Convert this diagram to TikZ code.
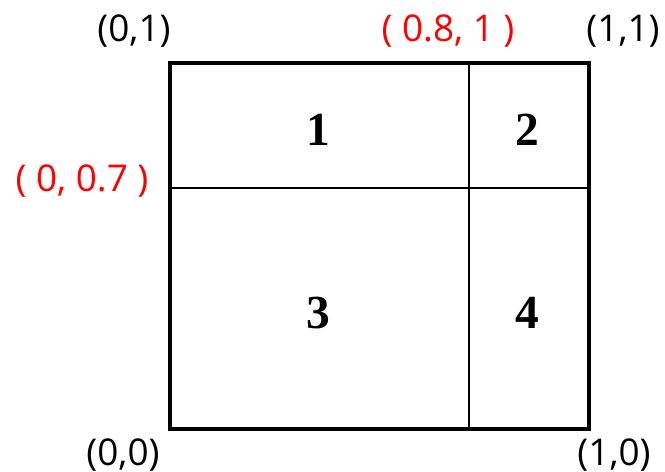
\documentclass[tikz,border=0pt]{standalone}
\usepackage{fontspec}
\setmainfont{Liberation Serif}
\newfontfamily\labelfont{Open Sans}

\begin{document}
\begin{tikzpicture}[x=0.02cm, y=-0.02cm,
    corner/.style={font=\labelfont\fontsize{21}{25}\selectfont},
    cut/.style={corner, text=red},
    cell/.style={font=\bfseries\fontsize{27}{30}\selectfont}]
  \useasboundingbox (0,0) rectangle (665,472);

  \coordinate (TL) at (170,63);
  \coordinate (TR) at (589,63);
  \coordinate (BL) at (170,429);
  \coordinate (BR) at (589,429);
  \coordinate (VT) at (469,63);
  \coordinate (VB) at (469,429);
  \coordinate (HL) at (170,188);
  \coordinate (HR) at (589,188);

  \draw[line width=1pt] (VT) -- (VB);
  \draw[line width=1pt] (HL) -- (HR);
  \draw[line width=2.2pt] (TL) -- (TR) -- (BR) -- (BL) -- cycle;

  \node[corner] (c01) at (134,31) {(0,1)};
  \node[corner] (c11) at (623,31) {(1,1)};
  \node[corner] (c00) at (123,455) {(0,0)};
  \node[corner] (c10) at (614,455) {(1,0)};
  \node[cut] (x08) at (448,31) {( 0.8, 1 )};
  \node[cut] (y07) at (82,181) {( 0, 0.7 )};

  \node[cell] (n1) at (318,130) {1};
  \node[cell] (n2) at (527,130) {2};
  \node[cell] (n3) at (318,313) {3};
  \node[cell] (n4) at (527,313) {4};
\end{tikzpicture}
\end{document}
